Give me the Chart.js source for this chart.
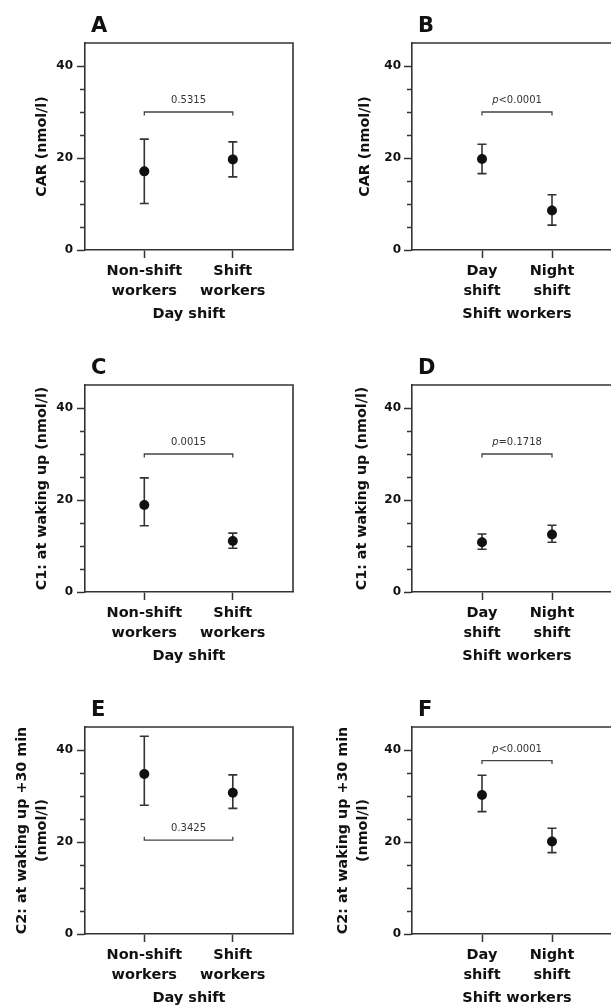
<!DOCTYPE html>
<html>
<head>
<meta charset="utf-8">
<script src="https://cdn.jsdelivr.net/npm/chart.js@4.4.0/dist/chart.umd.min.js"></script>
<style>
  html, body { margin: 0; padding: 0; background: #fff; overflow: hidden; }
  body { width: 611px; height: 1006px; position: relative; }
  canvas { position: absolute; }
</style>
</head>
<body>
<canvas id="chartA" width="305" height="330" style="left:0;top:0"></canvas>
<canvas id="chartB" width="335" height="330" style="left:305px;top:0"></canvas>
<canvas id="chartC" width="305" height="330" style="left:0;top:342px"></canvas>
<canvas id="chartD" width="335" height="330" style="left:305px;top:342px"></canvas>
<canvas id="chartE" width="305" height="330" style="left:0;top:684px"></canvas>
<canvas id="chartF" width="335" height="330" style="left:305px;top:684px"></canvas>
<script>
'use strict'

// categories and axis ticks
const dayCategories = [['Non-shift', 'workers'], ['Shift', 'workers']]
const shiftCategories = [['Day', 'shift'], ['Night', 'shift']]
const xPositions = [1, 2]
const yTicks = [0, 5, 10, 15, 20, 25, 30, 35, 40]
const yLabelled = [0, 20, 40]
const yMax = 45

// mean and error bar ends, per panel
const meanA = [17.1, 19.7]
const lowA = [10.1, 15.9]
const highA = [24.1, 23.5]

const meanB = [19.8, 8.6]
const lowB = [16.6, 5.4]
const highB = [23.0, 12.0]

const meanC = [18.9, 11.1]
const lowC = [14.4, 9.5]
const highC = [24.8, 12.8]

const meanD = [10.8, 12.5]
const lowD = [9.3, 10.8]
const highD = [12.6, 14.5]

const meanE = [34.8, 30.7]
const lowE = [28.0, 27.3]
const highE = [43.0, 34.6]

const meanF = [30.2, 20.1]
const lowF = [26.6, 17.7]
const highF = [34.5, 23.0]

// comparison brackets
const pLabels = ['0.5315', 'p<0.0001', '0.0015', 'p=0.1718', '0.3425', 'p<0.0001']
const bracketLevels = [30, 30, 30, 30, 20.4, 37.7]

const FAMILY = '"DejaVu Sans", "Liberation Sans", Arial, sans-serif'
const INK = '#111'
const LINE = '#333'

const panels = [
  { id: 'chartA', letter: 'A', side: 'left', categories: dayCategories, xTitle: 'Day shift',
    yTitle: 'CAR (nmol/l)', yPad: 34, mean: meanA, low: lowA, high: highA, bracketDir: 1 },
  { id: 'chartB', letter: 'B', side: 'right', categories: shiftCategories, xTitle: 'Shift workers',
    yTitle: 'CAR (nmol/l)', yPad: 52, mean: meanB, low: lowB, high: highB, bracketDir: 1 },
  { id: 'chartC', letter: 'C', side: 'left', categories: dayCategories, xTitle: 'Day shift',
    yTitle: 'C1: at waking up (nmol/l)', yPad: 33.5, mean: meanC, low: lowC, high: highC, bracketDir: 1 },
  { id: 'chartD', letter: 'D', side: 'right', categories: shiftCategories, xTitle: 'Shift workers',
    yTitle: 'C1: at waking up (nmol/l)', yPad: 49, mean: meanD, low: lowD, high: highD, bracketDir: 1 },
  { id: 'chartE', letter: 'E', side: 'left', categories: dayCategories, xTitle: 'Day shift',
    yTitle: ['C2: at waking up +30 min', '(nmol/l)'], yPad: 11.5, mean: meanE, low: lowE, high: highE, bracketDir: -1 },
  { id: 'chartF', letter: 'F', side: 'right', categories: shiftCategories, xTitle: 'Shift workers',
    yTitle: ['C2: at waking up +30 min', '(nmol/l)'], yPad: 27.5, mean: meanF, low: lowF, high: highF, bracketDir: 1 }
]

const decor = {
  id: 'decor',
  beforeDatasetsDraw(chart, args, opts) {
    const {ctx, scales: {x, y}} = chart
    const p = opts.panel
    ctx.save()
    ctx.strokeStyle = LINE
    ctx.lineWidth = 1.6
    xPositions.forEach((xv, i) => {
      const px = x.getPixelForValue(xv)
      const top = y.getPixelForValue(p.high[i])
      const bot = y.getPixelForValue(p.low[i])
      ctx.beginPath()
      ctx.moveTo(px, top); ctx.lineTo(px, bot)
      ctx.moveTo(px - 4.5, top); ctx.lineTo(px + 4.5, top)
      ctx.moveTo(px - 4.5, bot); ctx.lineTo(px + 4.5, bot)
      ctx.stroke()
    })
    ctx.restore()
  },
  afterDraw(chart, args, opts) {
    const {ctx, chartArea: a, scales: {x, y}} = chart
    const p = opts.panel
    ctx.save()
    // frame on top and right
    ctx.strokeStyle = LINE
    ctx.lineWidth = 1.6
    ctx.beginPath()
    ctx.moveTo(a.left, a.top); ctx.lineTo(a.right, a.top); ctx.lineTo(a.right, a.bottom)
    ctx.stroke()
    // minor ticks on y
    ctx.lineWidth = 1.4
    ctx.beginPath()
    yTicks.filter(v => !yLabelled.includes(v)).forEach(v => {
      const py = Math.round(y.getPixelForValue(v)) + 0.5
      ctx.moveTo(a.left - 5, py); ctx.lineTo(a.left, py)
    })
    ctx.stroke()
    // bracket
    const by = y.getPixelForValue(p.bracket)
    const x1 = x.getPixelForValue(xPositions[0])
    const x2 = x.getPixelForValue(xPositions[1])
    ctx.strokeStyle = '#444'
    ctx.lineWidth = 1.3
    ctx.beginPath()
    ctx.moveTo(x1, by + 3.5 * p.bracketDir); ctx.lineTo(x1, by)
    ctx.lineTo(x2, by); ctx.lineTo(x2, by + 3.5 * p.bracketDir)
    ctx.stroke()
    // p value label
    const text = p.p
    const italic = text.startsWith('p') ? 'p' : ''
    const rest = italic ? text.slice(1) : text
    ctx.fillStyle = '#333'
    ctx.textBaseline = 'alphabetic'
    ctx.font = `italic 10px ${FAMILY}`
    const wi = italic ? ctx.measureText(italic).width : 0
    ctx.font = `10px ${FAMILY}`
    const wr = ctx.measureText(rest).width
    let tx = (x1 + x2) / 2 - (wi + wr) / 2
    const ty = by - 9
    if (italic) {
      ctx.font = `italic 10px ${FAMILY}`
      ctx.fillText(italic, tx, ty)
      tx += wi
    }
    ctx.font = `10px ${FAMILY}`
    ctx.fillText(rest, tx, ty)
    // panel letter
    ctx.fillStyle = INK
    ctx.font = `bold 21px ${FAMILY}`
    ctx.fillText(p.letter, a.left + 6, a.top - 11)
    ctx.restore()
  }
}

const makeChart = (p) => {
  const isLeft = p.side === 'left'
  const labelFont = { family: FAMILY, size: 14.5, weight: 'bold', lineHeight: 1.34 }
  return new Chart(document.getElementById(p.id), {
    type: 'scatter',
    data: {
      datasets: [{
        data: p.mean.map((m, i) => ({ x: xPositions[i], y: m })),
        pointRadius: 5,
        pointHoverRadius: 5,
        pointBackgroundColor: INK,
        pointBorderColor: INK,
        pointBorderWidth: 0
      }]
    },
    options: {
      responsive: false,
      animation: false,
      events: [],
      layout: { padding: { top: 43, left: 0, bottom: 0, right: isLeft ? 12 : 18 } },
      plugins: {
        legend: { display: false },
        tooltip: { enabled: false },
        decor: { panel: p }
      },
      scales: {
        x: {
          type: 'linear',
          min: isLeft ? 0.33 : 0,
          max: isLeft ? 2.68 : 3,
          afterBuildTicks: s => { s.ticks = xPositions.map(v => ({ value: v })) },
          afterFit: s => { s.height = 80 },
          ticks: {
            callback: v => p.categories[xPositions.indexOf(v)],
            font: labelFont,
            color: INK,
            padding: 4,
            maxRotation: 0,
            autoSkip: false
          },
          grid: { drawOnChartArea: false, tickLength: 8, tickWidth: 1.5, tickColor: LINE },
          border: { color: LINE, width: 1.6 },
          title: {
            display: true,
            text: p.xTitle,
            color: INK,
            font: { family: FAMILY, size: 14.5, weight: 'bold', lineHeight: 1.2 },
            padding: { top: 0, bottom: 7 }
          }
        },
        y: {
          min: 0,
          max: yMax,
          afterBuildTicks: s => { s.ticks = yTicks.map(v => ({ value: v })) },
          afterFit: s => { s.width = isLeft ? 85 : 107 },
          ticks: {
            callback: v => yLabelled.includes(v) ? String(v) : '',
            font: { family: FAMILY, size: 12, weight: 'bold' },
            color: INK,
            padding: isLeft ? 4 : 3
          },
          grid: {
            drawOnChartArea: false,
            tickLength: 8,
            tickWidth: 1.5,
            tickColor: c => yLabelled.includes(c.tick.value) ? LINE : 'rgba(0,0,0,0)'
          },
          border: { color: LINE, width: 1.6 },
          title: {
            display: true,
            text: p.yTitle,
            color: INK,
            font: { family: FAMILY, size: 14.3, weight: 'bold', lineHeight: Array.isArray(p.yTitle) ? 1.45 : 1.2 },
            padding: { top: p.yPad, bottom: 0 }
          }
        }
      }
    },
    plugins: [decor]
  })
}

panels.forEach((p, i) => {
  p.p = pLabels[i]
  p.bracket = bracketLevels[i]
  makeChart(p)
})
</script>
</body>
</html>
